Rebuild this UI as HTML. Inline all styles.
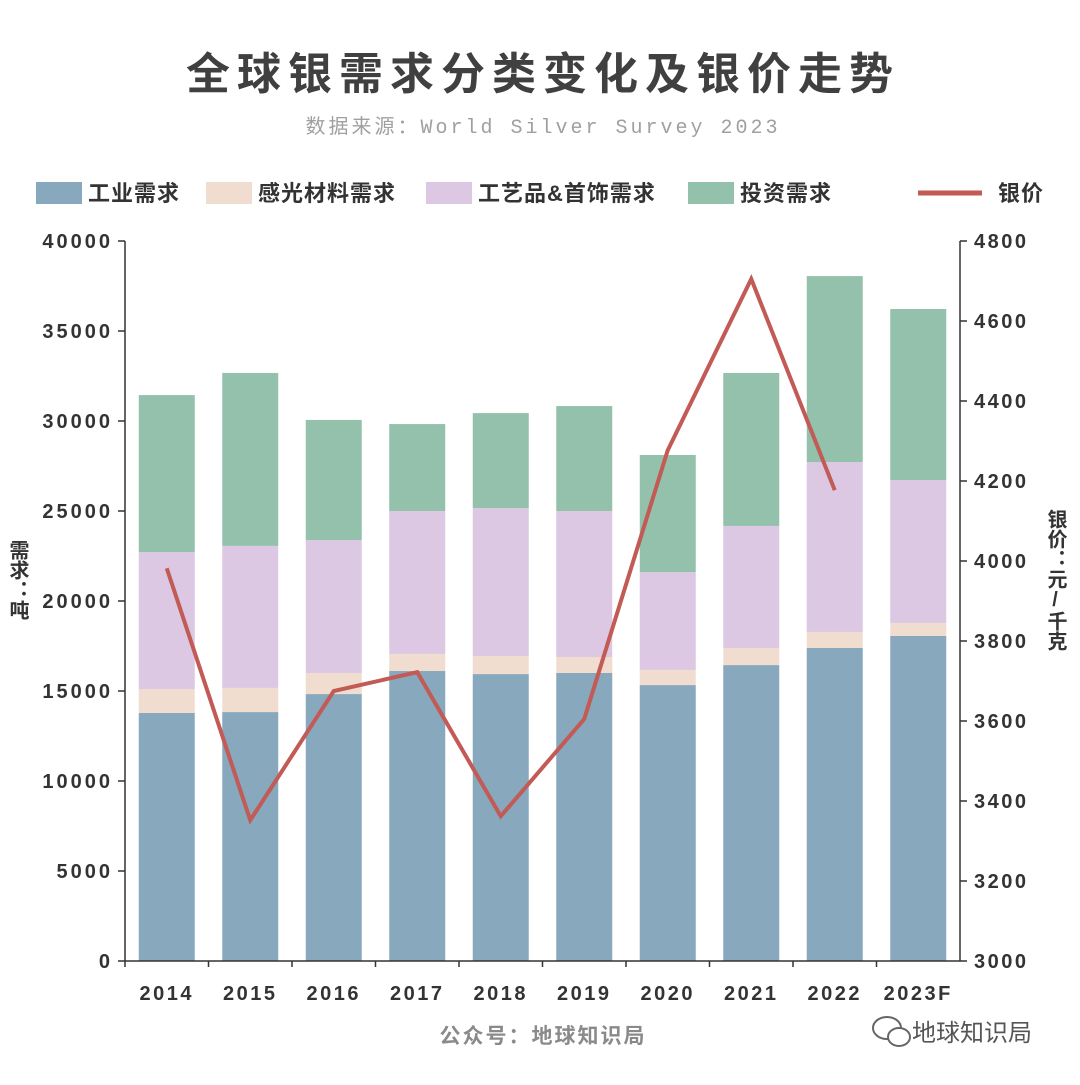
<!DOCTYPE html>
<html><head><meta charset="utf-8"><style>
html,body{margin:0;padding:0;background:#fff;}
svg text{font-family:"Liberation Sans","Noto Sans CJK SC",sans-serif;}
</style></head><body>
<svg id="c" width="1080" height="1080" viewBox="0 0 1080 1080" xmlns="http://www.w3.org/2000/svg">
<rect width="1080" height="1080" fill="#fff"/>
<text x="543" y="89" text-anchor="middle" font-size="44" font-weight="bold" fill="#404040" letter-spacing="7">全球银需求分类变化及银价走势</text>
<text x="543" y="133" text-anchor="middle" font-size="20" fill="#a0a0a0" style="font-family:'Liberation Mono','Noto Sans CJK SC',monospace" letter-spacing="3">数据来源：World Silver Survey 2023</text>
<g font-size="22" font-weight="bold" fill="#333">
<rect x="36" y="182" width="46" height="22" fill="#87a8bd"/><text x="88" y="201" letter-spacing="1">工业需求</text>
<rect x="206" y="182" width="46" height="22" fill="#f0ddd0"/><text x="258" y="201" letter-spacing="1">感光材料需求</text>
<rect x="426" y="182" width="46" height="22" fill="#dcc8e2"/><text x="478" y="201" letter-spacing="1">工艺品&amp;首饰需求</text>
<rect x="688" y="182" width="46" height="22" fill="#93c1ab"/><text x="740" y="201" letter-spacing="1">投资需求</text>
<line x1="918" y1="193" x2="982" y2="193" stroke="#c25a55" stroke-width="5"/><text x="998" y="201" letter-spacing="1">银价</text>
</g>
<text x="17" y="580" font-size="20" font-weight="bold" fill="#333" text-anchor="middle" style="writing-mode:vertical-rl;text-orientation:upright">需求：吨</text>
<text x="1055" y="580" font-size="20" font-weight="bold" fill="#333" text-anchor="middle" style="writing-mode:vertical-rl;text-orientation:upright">银价：元/千克</text>
<g id="plot"></g>
<text x="543" y="1043" text-anchor="middle" font-size="21" font-weight="bold" fill="#8a8a8a" letter-spacing="2">公众号：地球知识局</text>
<g>
<ellipse cx="887" cy="1028" rx="14" ry="11" fill="none" stroke="#666" stroke-width="2"/>
<ellipse cx="899" cy="1037" rx="11" ry="9" fill="#fff" stroke="#666" stroke-width="2"/>
<text x="912" y="1041" font-size="24" fill="#555">地球知识局</text>
</g>
</svg>
<script>
const categories=["2014","2015","2016","2017","2018","2019","2020","2021","2022","2023F"];
const industrial=[13780,13830,14830,16110,15940,16000,15330,16440,17390,18060];
const photo=[1330,1340,1170,950,1000,890,840,950,890,720];
const jewelry=[7610,7890,7390,7940,8220,8110,5440,6780,9440,7940];
const investment=[8720,9610,6670,4830,5280,5830,6500,8500,10330,9500];
const price=[3982,3352,3675,3722,3362,3605,4277,4705,4177,null];
const leftTicks=[0,5000,10000,15000,20000,25000,30000,35000,40000];
const rightTicks=[3000,3200,3400,3600,3800,4000,4200,4400,4600,4800];
const NS="http://www.w3.org/2000/svg";
const g=document.getElementById('plot');
const X0=125,X1=960,Y0=961,Y1=241;
const yL=v=>Y0-(v/40000)*(Y0-Y1);
const yR=v=>Y0-((v-3000)/1800)*(Y0-Y1);
const step=(X1-X0)/categories.length;
const xC=i=>X0+step*(i+0.5);
const bw=56;
function el(t,a){const e=document.createElementNS(NS,t);for(const k in a)e.setAttribute(k,a[k]);g.appendChild(e);return e;}
const series=[[industrial,"#87a8bd","industrial"],[photo,"#f0ddd0","photo"],[jewelry,"#dcc8e2","jewelry"],[investment,"#93c1ab","investment"]];
categories.forEach((c,i)=>{
  let base=0;
  series.forEach(([arr,col,nm])=>{
    const top=base+arr[i];
    const r=el('rect',{x:xC(i)-bw/2,y:yL(top),width:bw,height:yL(base)-yL(top),fill:col});
    
    
    base=top;
  });
  const t=el('text',{x:xC(i),y:1000,'text-anchor':'middle','font-size':20,'font-weight':'bold',fill:'#333','letter-spacing':2.5});
  t.textContent=c;
  
  
});
let a=el('line',{x1:X0,y1:Y1,x2:X0,y2:Y0,stroke:'#333','stroke-width':1.5});

a=el('line',{x1:X1,y1:Y1,x2:X1,y2:Y0,stroke:'#333','stroke-width':1.5});

a=el('line',{x1:X0,y1:Y0,x2:X1,y2:Y0,stroke:'#333','stroke-width':1.5});

categories.forEach((c,i)=>{el('line',{x1:X0+step*i,y1:Y0,x2:X0+step*i,y2:Y0+6,stroke:'#333','stroke-width':1.5});});
leftTicks.forEach(v=>{
  el('line',{x1:X0-7,y1:yL(v),x2:X0,y2:yL(v),stroke:'#333','stroke-width':1.5});
  const t=el('text',{x:X0-12,y:yL(v)+7,'text-anchor':'end','font-size':20,'font-weight':'bold',fill:'#333','letter-spacing':3});
  t.textContent=v;
  
  
});
rightTicks.forEach(v=>{
  el('line',{x1:X1,y1:yR(v),x2:X1+7,y2:yR(v),stroke:'#333','stroke-width':1.5});
  const t=el('text',{x:X1+14,y:yR(v)+7,'text-anchor':'start','font-size':20,'font-weight':'bold',fill:'#333','letter-spacing':2.5});
  t.textContent=v;
  
  
});
const pts=[];price.forEach((p,i)=>{if(p!=null)pts.push(xC(i)+','+yR(p));});
const pl=el('polyline',{points:pts.join(' '),fill:'none',stroke:'#c25a55','stroke-width':4,'stroke-linejoin':'miter'});


</script>
</body></html>
